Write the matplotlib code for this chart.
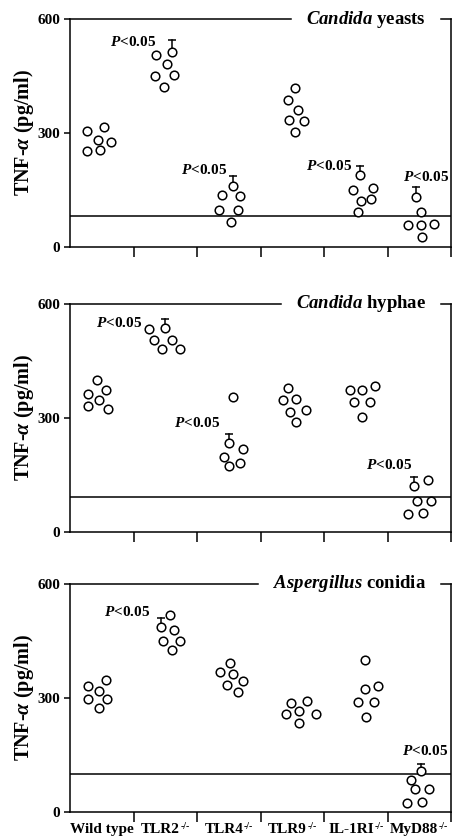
import matplotlib
matplotlib.use("Agg")
import matplotlib.pyplot as plt
from matplotlib.transforms import IdentityTransform
import numpy as np

plt.rcParams['font.family'] = ['Liberation Serif', 'DejaVu Serif']
plt.rcParams['font.weight'] = 'bold'
plt.rcParams['mathtext.fontset'] = 'custom'
plt.rcParams['mathtext.rm'] = 'Liberation Serif:bold'
plt.rcParams['mathtext.it'] = 'Liberation Serif:italic:bold'
plt.rcParams['mathtext.bf'] = 'Liberation Serif:bold'

# ---------------- data ----------------
category_names = ["Wild type", "TLR2", "TLR4", "TLR9", "IL-1RI", "MyD88"]
category_sups = ["", "-/-", "-/-", "-/-", "-/-", "-/-"]
yticks = [0, 300, 600]
panel_titles = [r"$Candida$ yeasts", r"$Candida$ hyphae", r"$Aspergillus$ conidia"]
baseline_values = [80, 92, 100]

yeasts_wt = [306, 316, 281, 276, 253, 255]
yeasts_tlr2 = [506, 515, 481, 451, 453, 422]
yeasts_tlr4 = [136, 160, 135, 97, 97, 66]
yeasts_tlr9 = [420, 387, 361, 333, 331, 303]
yeasts_il1ri = [189, 150, 156, 121, 126, 91]
yeasts_myd88 = [132, 92, 57, 57, 59, 26]

hyphae_wt = [400, 363, 373, 347, 330, 324]
hyphae_tlr2 = [534, 536, 505, 505, 482, 482]
hyphae_tlr4 = [354, 233, 218, 198, 180, 173]
hyphae_tlr9 = [378, 347, 350, 315, 322, 289]
hyphae_il1ri = [373, 373, 384, 343, 343, 303]
hyphae_myd88 = [120, 136, 82, 82, 47, 48]

conidia_wt = [330, 319, 347, 296, 296, 274]
conidia_tlr2 = [517, 486, 480, 451, 451, 426]
conidia_tlr4 = [393, 368, 363, 335, 344, 315]
conidia_tlr9 = [286, 293, 257, 266, 257, 235]
conidia_il1ri = [400, 323, 330, 289, 289, 250]
conidia_myd88 = [107, 83, 60, 60, 24, 26]

# significance: (category index, point value the bar starts from, upper error value)
yeasts_sig = [(1, 515, 545), (2, 160, 186), (4, 189, 214), (5, 132, 158)]
hyphae_sig = [(1, 536, 561), (2, 233, 257), (5, 120, 143)]
conidia_sig = [(1, 486, 510), (5, 107, 127)]

# ---------------- layout (positions only) ----------------
yeasts_dx = [[-0.23, 0.04, -0.06, 0.15, -0.23, -0.03],
             [-0.15, 0.11, 0.02, -0.16, 0.13, -0.02],
             [-0.10, 0.07, 0.17, -0.15, 0.14, 0.03],
             [0.04, -0.07, 0.09, -0.05, 0.18, 0.05],
             [0.07, -0.05, 0.27, 0.08, 0.24, 0.04],
             [-0.05, 0.03, -0.18, 0.03, 0.23, 0.05]]
hyphae_dx = [[-0.07, -0.22, 0.07, -0.04, -0.21, 0.10],
             [-0.26, 0.0, -0.17, 0.10, -0.05, 0.24],
             [0.07, 0.0, 0.23, -0.08, 0.18, 0.01],
             [-0.06, -0.15, 0.06, -0.04, 0.21, 0.06],
             [-0.09, 0.10, 0.31, -0.03, 0.22, 0.10],
             [-0.08, 0.13, -0.04, 0.18, -0.17, 0.06]]
conidia_dx = [[-0.22, -0.05, 0.07, -0.21, 0.09, -0.05],
              [0.08, -0.07, 0.14, -0.04, 0.24, 0.10],
              [0.02, -0.14, 0.07, -0.03, 0.23, 0.14],
              [-0.02, 0.24, -0.10, 0.11, 0.37, 0.11],
              [0.15, 0.15, 0.35, 0.03, 0.29, 0.16],
              [0.03, -0.13, -0.06, 0.16, -0.19, 0.04]]
# error-bar x offsets and P-label anchor (right x, center y in data units)
yeasts_sig_pos = [(0.11, 0.86, 541), (0.07, 1.97, 202), (0.07, 3.95, 214), (-0.05, 5.47, 183)]
hyphae_sig_pos = [(0.0, 0.63, 549), (0.0, 1.87, 287), (-0.08, 4.89, 176)]
conidia_sig_pos = [(-0.07, 0.76, 525), (0.03, 5.45, 161)]

panels = [
    ([yeasts_wt, yeasts_tlr2, yeasts_tlr4, yeasts_tlr9, yeasts_il1ri, yeasts_myd88],
     yeasts_dx, yeasts_sig, yeasts_sig_pos),
    ([hyphae_wt, hyphae_tlr2, hyphae_tlr4, hyphae_tlr9, hyphae_il1ri, hyphae_myd88],
     hyphae_dx, hyphae_sig, hyphae_sig_pos),
    ([conidia_wt, conidia_tlr2, conidia_tlr4, conidia_tlr9, conidia_il1ri, conidia_myd88],
     conidia_dx, conidia_sig, conidia_sig_pos),
]

W, H = 454, 838
fig = plt.figure(figsize=(W / 100, H / 100), dpi=100)
left_px, right_px = 70, 451
axes_px = [(19.3, 246.7), (304.0, 531.7), (584.0, 811.7)]

axes = []
titles = []
for i, (top, bot) in enumerate(axes_px):
    ax = fig.add_axes([left_px / W, 1 - bot / H, (right_px - left_px) / W, (bot - top) / H])
    axes.append(ax)
    groups, dxs, sigs, sig_pos = panels[i]
    lw = 1.1
    ax.set_xlim(-0.5, 5.5)
    ax.set_ylim(0, 600)
    for s in ['left', 'bottom', 'right']:
        ax.spines[s].set_linewidth(lw)
    ax.spines['top'].set_visible(False)
    ax.axhline(baseline_values[i], color='black', lw=lw, zorder=1)

    # error bars
    for (cat, start, upper), (bx, tx, ty) in zip(sigs, sig_pos):
        ax.plot([cat + bx, cat + bx], [start, upper], color='black', lw=lw, zorder=2)
        ax.plot([cat + bx], [upper], marker='_', ms=6, mew=lw, color='black', zorder=2)
        ax.text(tx, ty, r"$P$<0.05", ha='right', va='center', fontsize=11, fontweight='bold')

    for cat, (vals, dx) in enumerate(zip(groups, dxs)):
        ax.plot(cat + np.array(dx), vals, linestyle='none', marker='o', ms=6.2,
                mfc='white', mec='black', mew=1.1, zorder=3)

    ax.set_yticks(yticks)
    ax.set_yticklabels([str(v) for v in yticks], fontsize=11, fontweight='bold')
    ax.tick_params(axis='y', direction='out', length=4, width=lw, pad=3)
    ax.set_xticks(np.arange(0.5, 6, 1.0))
    ax.set_xticklabels([])
    ax.tick_params(axis='x', which='major', direction='out', length=7, width=lw)
    ax.set_ylabel(r"TNF-$\alpha$ (pg/ml)", fontsize=14.5, fontweight='bold')
    ax.yaxis.set_label_coords(-34 / (right_px - left_px), 0.5)

    t = ax.text(0.935, 1.0, panel_titles[i], transform=ax.transAxes, ha='right',
                va='center', fontsize=13.5, fontweight='bold')
    titles.append(t)

fig.canvas.draw()
r = fig.canvas.get_renderer()

# top frame line interrupted by the panel title
for ax, t in zip(axes, titles):
    bb = t.get_window_extent(r)
    inv = ax.transAxes.inverted()
    x0 = inv.transform((bb.x0 - 15, 0))[0]
    x1 = inv.transform((bb.x1 + 15, 0))[0]
    ax.plot([0, x0], [1, 1], transform=ax.transAxes, color='black', lw=1.1, clip_on=False)
    ax.plot([x1, 1], [1, 1], transform=ax.transAxes, color='black', lw=1.1, clip_on=False,
            solid_capstyle='projecting')

# category labels with small superscripts under the bottom panel
axb = axes[-1]
label_top = axb.transAxes.transform((0, 0))[1] - 11
for cat, (name, sup) in enumerate(zip(category_names, category_sups)):
    cx = axb.transData.transform((cat, 0))[0]
    t1 = fig.text(0, label_top, name, transform=IdentityTransform(), ha='left', va='top',
                  fontsize=11, fontweight='bold')
    w1 = t1.get_window_extent(r).width
    w2 = 0
    if sup:
        t2 = fig.text(0, label_top + 1, sup, transform=IdentityTransform(), ha='left', va='top',
                      fontsize=7, fontweight='bold')
        w2 = t2.get_window_extent(r).width + 0.5
    x_start = min(cx - (w1 + w2) / 2, W - (w1 + w2) - 0.5)
    t1.set_position((x_start, label_top))
    if sup:
        t2.set_position((x_start + w1 + 0.5, label_top + 1))

fig.savefig("out.png", dpi=100)
